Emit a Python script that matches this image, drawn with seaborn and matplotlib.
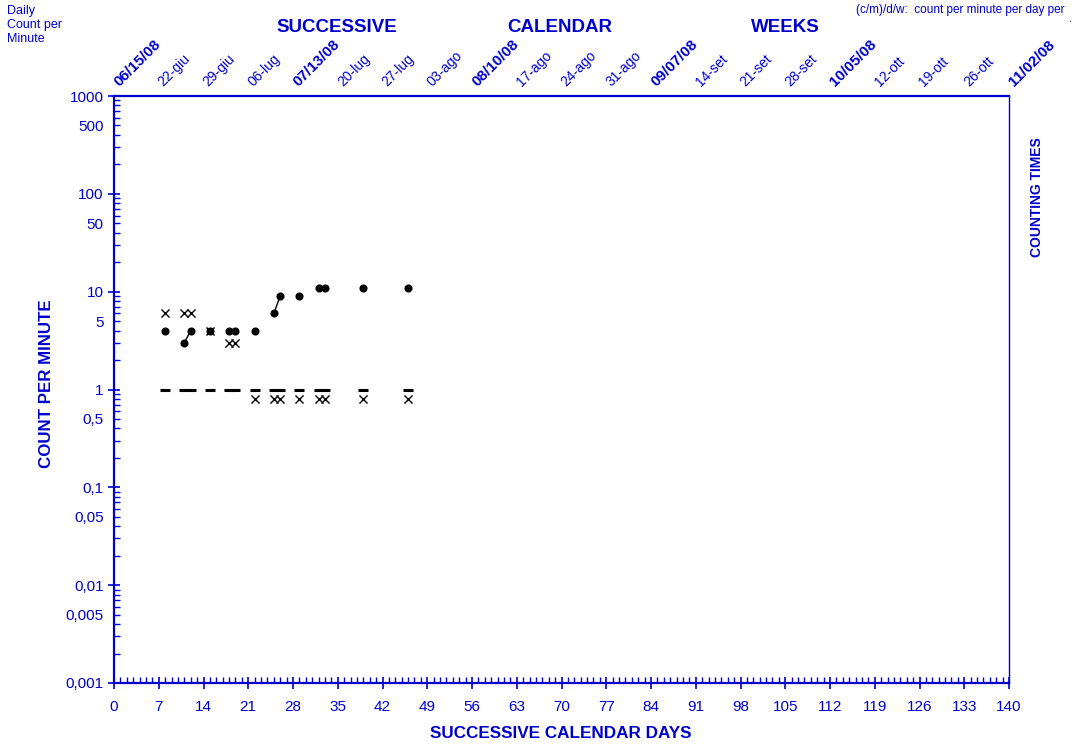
import numpy as np
import pandas as pd
import matplotlib
matplotlib.use("Agg")
import matplotlib.pyplot as plt
import matplotlib.ticker as mticker
import matplotlib.transforms as mtransforms
import seaborn as sns

# days counted from 06/15/08
days = [8, 11, 12, 15, 18, 19, 22, 25, 26, 29, 32, 33, 39, 46]
# correct responses per minute (dots)
correct = [4, 3, 4, 4, 4, 4, 4, 6, 9, 9, 11, 11, 11, 11]
# errors per minute (crosses)
errors = [6, 6, 6, 4, 3, 3, 0.8, 0.8, 0.8, 0.8, 0.8, 0.8, 0.8, 0.8]
# counting time floor (dashes)
floor = [1, 1, 1, 1, 1, 1, 1, 1, 1, 1, 1, 1, 1, 1]

week_labels = ["06/15/08", "22-giu", "29-giu", "06-lug", "07/13/08", "20-lug",
               "27-lug", "03-ago", "08/10/08", "17-ago", "24-ago", "31-ago",
               "09/07/08", "14-set", "21-set", "28-set", "10/05/08", "12-ott",
               "19-ott", "26-ott", "11/02/08"]

BLUE = "#0000CC"

sns.set_style("white")
plt.rcParams["font.family"] = ["Liberation Sans", "DejaVu Sans"]

df = pd.DataFrame({"day": days, "correct": correct, "errors": errors, "floor": floor})
# consecutive days are joined by a line
df["run"] = (df["day"].diff() != 1).cumsum()

fig = plt.figure(figsize=(10.81, 7.44), dpi=100)
ax = fig.add_axes([114 / 1081, 1 - 683 / 744, 895 / 1081, 587 / 744])

sns.lineplot(data=df, x="day", y="correct", units="run", estimator=None,
             color="black", lw=1, ax=ax)
sns.scatterplot(data=df, x="day", y="correct", marker="o", s=34,
                color="black", linewidth=0, ax=ax)
sns.scatterplot(data=df, x="day", y="errors", marker="x", s=34,
                color="black", linewidth=1, ax=ax)
sns.scatterplot(data=df, x="day", y="floor", marker="_", s=62,
                color="black", linewidth=2.2, ax=ax)

ax.set_yscale("log")
ax.set_ylim(0.001, 1000)
ax.set_xlim(0, 140)
ax.set_xlabel("")
ax.set_ylabel("")

# x ticks: every day minor, every week major
ax.set_xticks(np.arange(0, 141, 7))
ax.xaxis.set_minor_locator(mticker.MultipleLocator(1))
ax.set_xticklabels([str(v) for v in range(0, 141, 7)])

# y ticks
ax.yaxis.set_major_locator(mticker.LogLocator(base=10, numticks=20))
ax.yaxis.set_minor_locator(mticker.LogLocator(base=10, subs=np.arange(2, 10), numticks=20))

def fmt(v, pos=None):
    if v < 0.00099 or v > 1001:
        return ""
    s = f"{v:g}"
    if v < 1:
        s = f"{v:.3f}".rstrip("0")
    return s.replace(".", ",")

def minor_fmt(v, pos=None):
    if v < 0.00099 or v > 1001:
        return ""
    m = v / 10 ** np.floor(np.log10(v) + 1e-9)
    if abs(m - 5) < 0.01:
        return fmt(v)
    return ""

ax.yaxis.set_major_formatter(mticker.FuncFormatter(fmt))
ax.yaxis.set_minor_formatter(mticker.FuncFormatter(minor_fmt))

ax.tick_params(axis="x", which="both", bottom=True, top=False)
ax.tick_params(axis="y", which="both", left=True, right=False)
ax.tick_params(axis="both", which="major", direction="inout", length=9,
               width=1.2, color=BLUE, labelcolor=BLUE, labelsize=11)
ax.tick_params(axis="x", which="major", pad=8)
ax.tick_params(axis="y", which="major", pad=3)
ax.tick_params(axis="both", which="minor", direction="in", length=4,
               width=1, color=BLUE, labelcolor=BLUE, labelsize=11)
ax.tick_params(axis="y", which="minor", pad=7.5)

for side in ["left", "bottom", "top"]:
    ax.spines[side].set_color(BLUE)
    ax.spines[side].set_linewidth(1.6)
ax.spines["right"].set_color(BLUE)
ax.spines["right"].set_linewidth(1.0)

# top scale with calendar weeks
shift = mtransforms.ScaledTranslation(7 / 100, 7 / 100, fig.dpi_scale_trans)
for i, lab in enumerate(week_labels):
    bold = i % 4 == 0
    ax.text(7 * i, 1, lab, transform=ax.get_xaxis_transform() + shift,
            rotation=45, rotation_mode="anchor", ha="left", va="bottom",
            fontsize=11 if bold else 10, fontweight="bold" if bold else "normal",
            color=BLUE, clip_on=False)

# header and axis titles
fig.text(7 / 1081, 1 - 5 / 744, "Daily\nCount per\nMinute", ha="left", va="top",
         fontsize=9, color=BLUE, linespacing=1.22)
for word, xp in [("SUCCESSIVE", 337), ("CALENDAR", 560), ("WEEKS", 785)]:
    fig.text(xp / 1081, 1 - 27 / 744, word, ha="center", va="center",
             fontsize=13.5, fontweight="bold", color=BLUE)
fig.text(1065 / 1081, 1 - 10 / 744, "(c/m)/d/w:  count per minute per day per",
         ha="right", va="center", fontsize=8.5, color=BLUE)
fig.text(1069 / 1081, 1 - 19 / 744, ".", ha="center", va="center",
         fontsize=7, color=BLUE)
fig.text(47 / 1081, 1 - 384 / 744, "COUNT PER MINUTE", rotation=90,
         ha="center", va="center", fontsize=12.2, fontweight="bold", color=BLUE)
fig.text(1037 / 1081, 1 - 197 / 744, "COUNTING TIMES", rotation=90,
         ha="center", va="center", fontsize=10, fontweight="bold", color=BLUE)
fig.text(561 / 1081, 1 - 734 / 744, "SUCCESSIVE CALENDAR DAYS",
         ha="center", va="center", fontsize=12.3, fontweight="bold", color=BLUE)

fig.savefig("out.png", dpi=100)
plt.close(fig)
